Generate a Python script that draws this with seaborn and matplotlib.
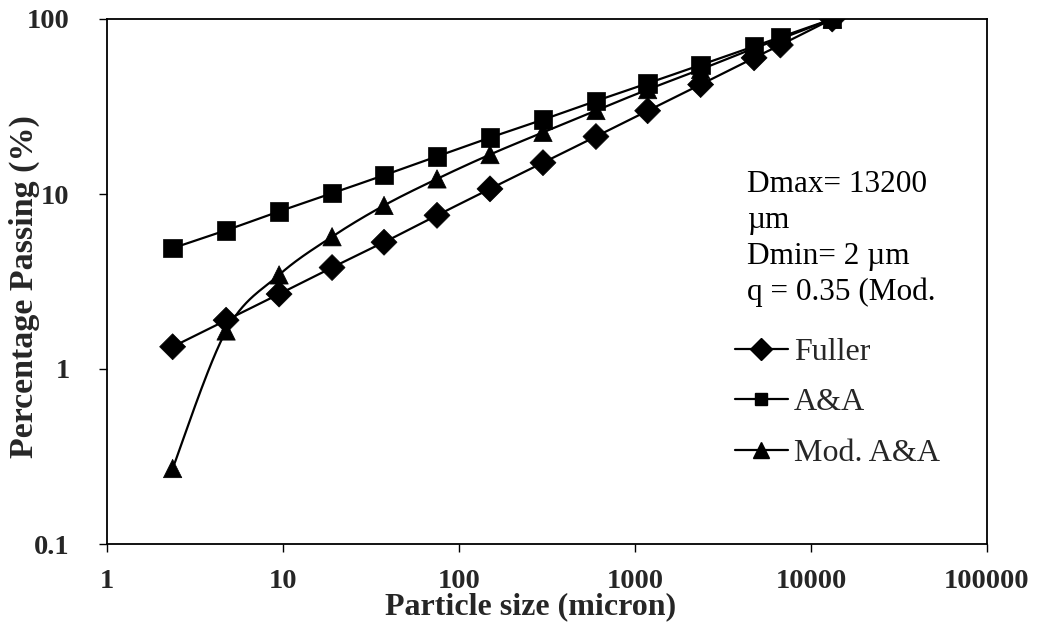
import numpy as np
import pandas as pd
import matplotlib
matplotlib.use("Agg")
import matplotlib.pyplot as plt
from matplotlib.lines import Line2D
from matplotlib.ticker import FixedLocator, FixedFormatter, NullLocator
import seaborn as sns

# ---- data ----
particle_size = [2.36, 4.75, 9.5, 19, 37.5, 75, 150, 300, 600, 1180, 2360, 4750, 6700, 13200]
fuller = [1.34, 1.9, 2.68, 3.8, 5.3, 7.55, 10.7, 15.1, 21.3, 29.9, 42.2, 60.0, 71.0, 100]
aa = [4.9, 6.2, 7.95, 10.1, 12.8, 16.4, 21.0, 26.6, 34.0, 42.9, 54.6, 69.8, 78.8, 100]
mod_aa = [0.27, 1.65, 3.45, 5.7, 8.6, 12.2, 16.8, 22.5, 30.0, 39.5, 51.5, 68.0, 77.0, 100]
series_names = ["Fuller", "A&A", "Mod. A&A"]
series_markers = ["D", "s", "^"]
x_ticks = [1, 10, 100, 1000, 10000, 100000]
x_tick_labels = ["1", "10", "100", "1000", "10000", "100000"]
y_ticks = [0.1, 1, 10, 100]
y_tick_labels = ["0.1", "1", "10", "100"]
note_lines = ["Dmax= 13200", "\u00b5m", "Dmin= 2 \u00b5m", "q = 0.35 (Mod."]

sns.set_theme(style="white")
plt.rcParams["font.family"] = ["Liberation Serif", "DejaVu Serif"]

def smooth(xs, ys, n=30):
    """Excel-like smoothed line (Bezier through points) in log-log space."""
    lx = np.log10(np.asarray(xs, float))
    ly = np.log10(np.asarray(ys, float))
    P = np.column_stack([lx, ly])
    out = [P[0]]
    m = len(P)
    for i in range(m - 1):
        p0 = P[i - 1] if i > 0 else P[i]
        p1 = P[i]
        p2 = P[i + 1]
        p3 = P[i + 2] if i + 2 < m else P[i + 1]
        c1 = p1 + (p2 - p0) / 6.0
        c2 = p2 - (p3 - p1) / 6.0
        t = np.linspace(0, 1, n)[1:, None]
        seg = ((1 - t) ** 3) * p1 + 3 * ((1 - t) ** 2) * t * c1 + 3 * (1 - t) * t ** 2 * c2 + t ** 3 * p2
        out.extend(seg)
    out = np.array(out)
    return 10 ** out[:, 0], 10 ** out[:, 1]

series_vals = [fuller, aa, mod_aa]
curve_frames = []
point_frames = []
for name, vals in zip(series_names, series_vals):
    cx, cy = smooth(particle_size, vals)
    curve_frames.append(pd.DataFrame({"x": cx, "y": cy, "series": name}))
    point_frames.append(pd.DataFrame({"x": particle_size, "y": vals, "series": name}))
curves = pd.concat(curve_frames, ignore_index=True)
points = pd.concat(point_frames, ignore_index=True)

fig = plt.figure(figsize=(10.37, 6.30), dpi=100)
ax = fig.add_axes([107 / 1037, 86 / 630, 880 / 1037, 525 / 630])

palette = {n: "black" for n in series_names}
sns.lineplot(data=curves, x="x", y="y", hue="series", units="series", estimator=None,
             sort=False, palette=palette, linewidth=1.6, legend=False, ax=ax)
sns.scatterplot(data=points, x="x", y="y", hue="series", style="series",
                markers=dict(zip(series_names, series_markers)), palette=palette,
                s=175, edgecolor="black", linewidth=0.5, legend=False, ax=ax, zorder=3)

ax.set_xscale("log")
ax.set_yscale("log")
ax.set_xlim(1, 100000)
ax.set_ylim(0.1, 100)
ax.xaxis.set_major_locator(FixedLocator(x_ticks))
ax.xaxis.set_major_formatter(FixedFormatter(x_tick_labels))
ax.yaxis.set_major_locator(FixedLocator(y_ticks))
ax.yaxis.set_major_formatter(FixedFormatter(y_tick_labels))
ax.xaxis.set_minor_locator(NullLocator())
ax.yaxis.set_minor_locator(NullLocator())
ax.tick_params(axis="both", which="major", direction="out", length=6, width=1.0,
               color="black", labelsize=20.5, left=True, bottom=True)
ax.tick_params(axis="x", pad=12)
ax.tick_params(axis="y", pad=21)
for lab in ax.get_xticklabels() + ax.get_yticklabels():
    lab.set_fontweight("bold")
for sp in ax.spines.values():
    sp.set_color("black")
    sp.set_linewidth(1.3)
    sp.set_visible(True)

ax.set_xlabel("Particle size (micron)", fontsize=23, fontweight="bold")
ax.xaxis.set_label_coords((530.5 - 107) / 880, (544 - 592) / 525)
ax.set_ylabel("Percentage Passing (%)", fontsize=24.5, fontweight="bold")
ax.yaxis.set_label_coords((40 - 107) / 880, (544 - 286.5) / 525)

baselines = [192, 228, 264, 300]
for line, py in zip(note_lines, baselines):
    ax.text((747 - 107) / 880, (544 - py) / 525, line, transform=ax.transAxes,
            fontsize=22.5, ha="left", va="baseline", color="black")

legend_sizes = [11, 8.5, 11]
handles = [Line2D([0], [0], color="black", linewidth=1.6, marker=m, markersize=ms,
                  markerfacecolor="black", markeredgecolor="black")
           for m, ms in zip(series_markers, legend_sizes)]
ax.legend(handles, series_names, loc="upper left",
          bbox_to_anchor=((735 - 107) / 880, (544 - 337.5) / 525), frameon=False,
          fontsize=23, handlelength=1.65, handletextpad=0.2, labelspacing=0.66,
          borderpad=0, borderaxespad=0)

fig.savefig("out.png", dpi=100)
